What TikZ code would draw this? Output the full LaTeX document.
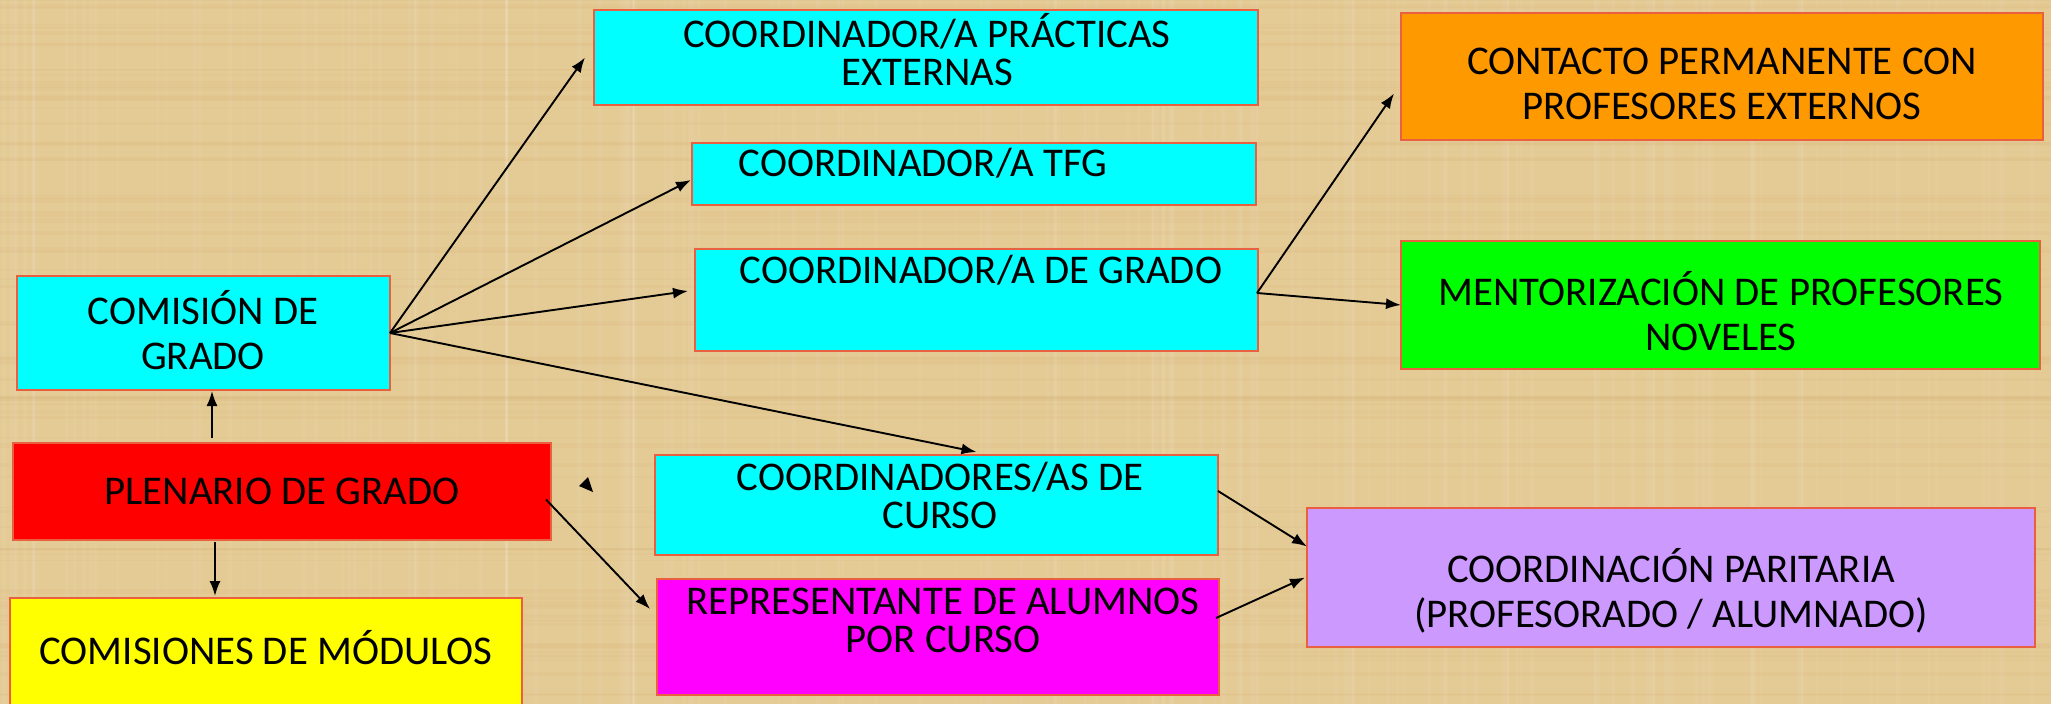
\documentclass[tikz,border=0pt]{standalone}
\usepackage{fontspec}
\setmainfont{Carlito}
\usetikzlibrary{arrows.meta,calc}
\definecolor{bg}{RGB}{228,202,148}
\definecolor{bord}{RGB}{232,96,64}
\definecolor{cy}{RGB}{0,255,255}
\definecolor{rd}{RGB}{255,0,0}
\definecolor{yl}{RGB}{255,255,0}
\definecolor{mg}{RGB}{255,0,255}
\definecolor{og}{RGB}{255,153,0}
\definecolor{gr}{RGB}{0,255,0}
\definecolor{pu}{RGB}{204,153,255}
\begin{document}
\begin{tikzpicture}[x=1pt,y=-1pt,
  box/.style={draw=bord,line width=1.3pt,anchor=north west,inner sep=0pt,outer sep=0pt},
  lbl/.style={font=\fontsize{40.8}{38}\selectfont,align=center,inner sep=0pt},
  lblw/.style={font=\fontsize{40.8}{45}\selectfont,align=center,inner sep=0pt},
  arr/.style={-{Latex[length=15pt,width=11pt]},line width=1.9pt}]
\useasboundingbox (0,0) rectangle (2051,704);
\fill[bg] (0,0) rectangle (2051,704);
% woven texture
\pgfmathsetseed{11}
\foreach \i in {1,...,160}{
  \pgfmathsetmacro\xx{rnd*2051}
  \pgfmathsetmacro\ww{1+rnd*4}
  \fill[white,opacity=0.07] (\xx,0) rectangle ++(\ww,704);
}
\foreach \i in {1,...,80}{
  \pgfmathsetmacro\yy{rnd*704}
  \pgfmathsetmacro\hh{1+rnd*4}
  \fill[brown,opacity=0.04] (0,\yy) rectangle ++(2051,\hh);
}
% boxes
\node[box,fill=cy,minimum width=664pt,minimum height=95pt] (prac) at (594,10) {};
\node[box,fill=cy,minimum width=564pt,minimum height=62pt] (tfg) at (692,143) {};
\node[box,fill=cy,minimum width=563pt,minimum height=102pt] (dgrado) at (695,249) {};
\node[box,fill=cy,minimum width=373pt,minimum height=114pt] (com) at (17,276) {};
\node[box,fill=rd,minimum width=538pt,minimum height=97pt] (plen) at (13,443) {};
\node[box,fill=yl,minimum width=512pt,minimum height=112pt] (mod) at (10,598) {};
\node[box,fill=cy,minimum width=563pt,minimum height=100pt] (curso) at (655,455) {};
\node[box,fill=mg,minimum width=562pt,minimum height=116pt] (repr) at (657,579) {};
\node[box,fill=og,minimum width=642pt,minimum height=127pt] (cont) at (1401,13) {};
\node[box,fill=gr,minimum width=639pt,minimum height=128pt] (ment) at (1401,241) {};
\node[box,fill=pu,minimum width=728pt,minimum height=139pt] (parit) at (1307,508) {};
% texts
\node[lbl] (pract) at (927,50) {COORDINADOR/A PRÁCTICAS\\EXTERNAS};
\node[lbl] (tfgt) at (923,163) {COORDINADOR/A TFG};
\node[lbl] (dgradot) at (981,270) {COORDINADOR/A DE GRADO};
\node[lblw] (comt) at (203,330) {COMISIÓN DE\\GRADO};
\node[lbl] (plent) at (282,491) {PLENARIO DE GRADO};
\node[lbl] (modt) at (266,648) {COMISIONES DE MÓDULOS};
\node[lbl] (cursot) at (940,495) {COORDINADORES/AS DE\\CURSO};
\node[lbl] (reprt) at (943,620) {REPRESENTANTE DE ALUMNOS\\POR CURSO};
\node[lblw] (contt) at (1722,84) {CONTACTO PERMANENTE CON\\PROFESORES EXTERNOS};
\node[lblw] (mentt) at (1721,311) {MENTORIZACIÓN DE PROFESORES\\NOVELES};
\node[lblw] (paritt) at (1671,591) {COORDINACIÓN PARITARIA\\(PROFESORADO / ALUMNADO)};
% connectors
\coordinate (csrc) at (com.east);
\draw[arr] (csrc) -- ($(prac.west)+(-9,0)$);
\draw[arr] (csrc) -- ($(tfg.west)+(-1,6)$);
\draw[arr] (csrc) -- ($(dgrado.west)+(-7,-9)$);
\draw[arr] (csrc) -- ($(curso.north)+(40,-3)$);
\coordinate (dsrc) at ($(dgrado.east)+(-1,-7)$);
\draw[arr] (dsrc) -- ($(cont.west)+(-7,17)$);
\draw[arr] (dsrc) -- (ment.west);
\draw[arr] ($(plen.north west)+(199,-5)$) -- ($(com.south west)+(195,1)$);
\draw[arr] ($(plen.south west)+(202,2)$) -- ($(mod.north west)+(205,-2)$);
\draw[arr] ($(plen.east)+(-5,8)$) -- ($(repr.west)+(-7,-28)$);
\draw[arr] ($(curso.east)+(0,-14)$) -- ($(parit.west)+(0,-31)$);
\draw[arr] ($(repr.east)+(-3,-19)$) -- ($(parit.west)+(-2,0)$);
% stray arrowhead
\fill (579,486) -- (588,477) -- (593,492) -- cycle;
\end{tikzpicture}
\end{document}
